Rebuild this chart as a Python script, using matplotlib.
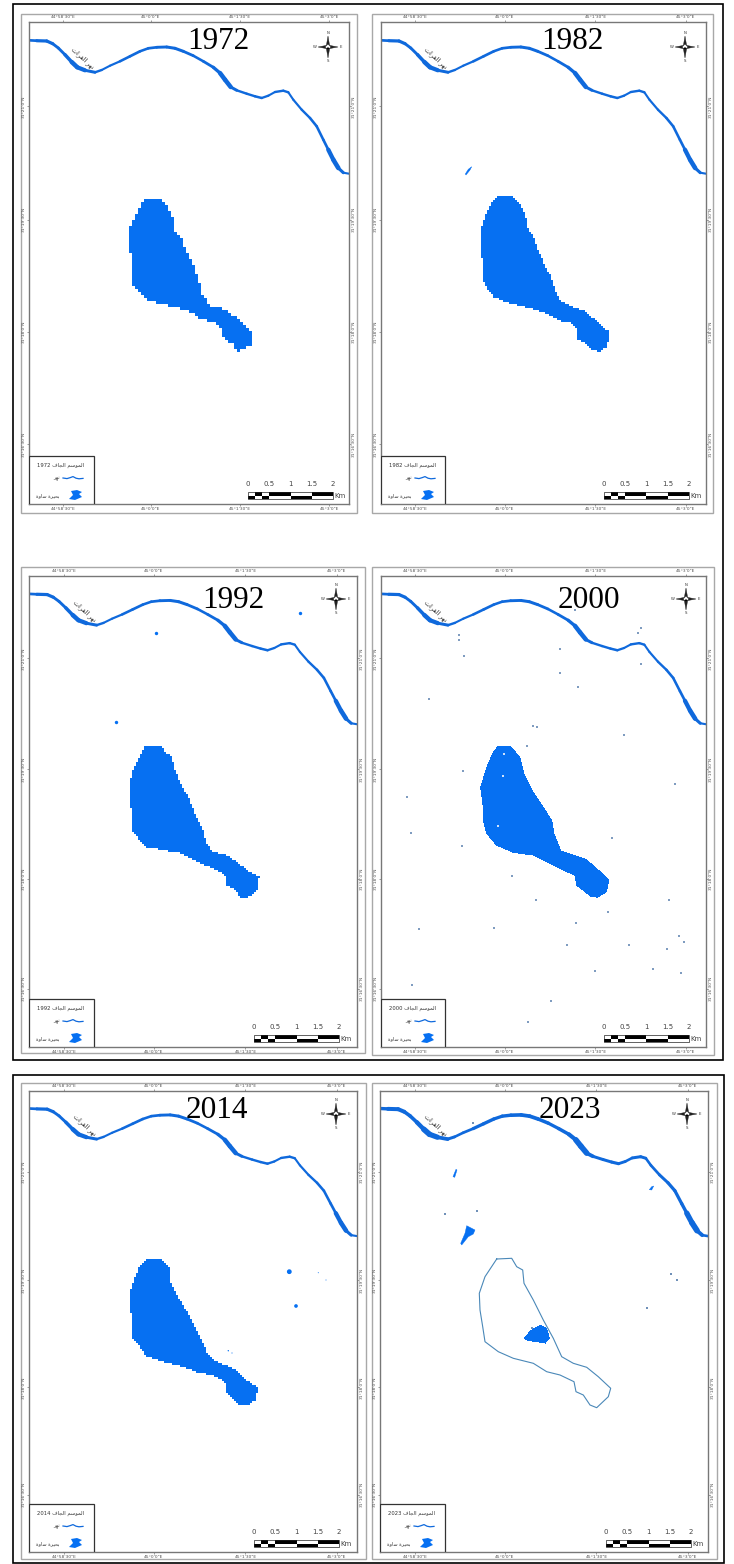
import numpy as np
import matplotlib
matplotlib.use("Agg")
import matplotlib.pyplot as plt
from matplotlib.collections import LineCollection
from matplotlib.colors import ListedColormap
from matplotlib.patches import Polygon, Rectangle
from matplotlib.path import Path

BLUE = "#0670f2"
RIVER_BLUE = "#0f69dc"

YEARS = ["1972", "1982", "1992", "2000", "2014", "2023"]

# river traced on the 1972 map, the others are the same river on a slightly different window
river_x = [0, 7.7, 17.7, 23.7, 29.3, 36, 42.7, 48.3, 56, 66, 72.7, 81, 91, 101, 111, 119.3, 127.7, 137.7, 146, 154.3,
           164.3, 174.3, 184.3, 191, 196, 201.7, 207.7, 217.7, 226, 232.7, 239.3, 246, 254.3, 259.3, 264.3, 272.7,
           281, 287.7, 294.3, 299.3, 304.3, 309.3, 314.3, 320]
river_y = [18.3, 18.7, 19, 21.7, 26, 32.7, 40, 45.3, 48.3, 50.3, 48, 43.7, 39.3, 34.3, 29.3, 26.3, 25.3, 25, 26.3, 29.3,
           33.7, 39.3, 45.3, 51, 57.7, 65, 68.3, 71.7, 74.3, 76, 73.7, 70, 68.7, 70.3, 77.7, 87.7,
           96, 104.3, 117.7, 127.7, 137.7, 146, 150.7, 151.7]
river_w = [2.4, 3, 3.4, 3, 2.8, 3, 4, 5, 3.4, 2.6, 2.2, 2, 2.4, 2.8, 2.6, 2.6, 2.8, 3, 3, 3,
           2.6, 2.6, 3, 3.6, 5.4, 3.6, 2.4, 2.4, 2.4, 2.6, 2, 2.2, 2.6, 2.2, 2, 2.4,
           2.4, 2.8, 2.4, 3, 5.6, 3.6, 2.6, 1.6]

lake_1972_x = [114.3, 128.3, 134.3, 139.3, 143.7, 145, 152.7, 156, 162.7, 167.7, 171, 172.7, 181, 194.3, 204.3, 214.3,
               223.7, 223.7, 217.7, 209.3, 202.7, 194.3, 192.7, 184.3, 171, 161, 147.7, 127.7, 114.3, 101.7, 101,
               101.7, 98.3, 99.3, 104.3, 109.3]
lake_1972_y = [176.3, 175.3, 181.3, 186.3, 196.3, 208, 216.3, 228, 239.7, 254.7, 261.3, 273, 283, 286.3, 293, 301.3,
               309.7, 321.3, 323, 329.7, 321.3, 317.3, 306.3, 299.7, 296.3, 289.7, 284.7, 281.3, 274.7, 261.3, 248,
               234.7, 221.3, 208, 198, 186.3]
lake_1982_x = [115.7, 129, 135.7, 140.7, 144.7, 147.3, 152.3, 157.3, 163, 169, 173, 175.7, 180, 192.3, 204, 212.3,
               219.7, 228.3, 226.3, 218.3, 210.7, 202.3, 195, 195.7, 190.7, 179, 162.3, 145.7, 125.7, 112.3, 104,
               101, 102.3, 99.7, 99, 104, 110.7]
lake_1982_y = [174, 173.3, 178, 184.7, 194.7, 208, 214.7, 228, 241.3, 253, 264.7, 273, 279, 285.3, 288.7, 296.3,
               303, 309.7, 324.7, 329.7, 328, 319.7, 316.3, 306.3, 301.3, 298.7, 290.3, 285.3, 280.7, 274.7, 263,
               254.7, 244.7, 228, 211.3, 194.7, 181.3]
lake_1992_x = [116.7, 131.7, 136, 142.7, 146, 152.7, 159.3, 166, 174.3, 177, 184.3, 197.7, 207.7, 217.7, 230.3, 227.7,
               219.3, 211.7, 204.3, 197, 196, 184.3, 171, 152.7, 134.3, 117.7, 109.3, 103.7, 103.3, 101, 100.3,
               103.7, 111]
lake_1992_y = [169, 169, 175.7, 180.7, 194, 210.7, 220.7, 237.3, 254, 267.3, 275.7, 279, 285.7, 294, 300.7, 315.7,
               321.3, 321.3, 312.3, 309, 299, 292.3, 287.3, 277.3, 274, 271.3, 262.3, 255.7, 240.7, 224, 210.7,
               194, 180.7]
lake_2000_x = [117.3, 130.7, 139.7, 144, 152.3, 162.3, 171.7, 174, 180.7, 205.7, 219, 229, 226.3, 217.3, 209.7, 195.7,
               194, 182.3, 169, 152.3, 132.3, 115.7, 105.7, 102.3, 102.3, 99.7, 105.7, 112.3]
lake_2000_y = [169, 169.7, 180.7, 197.3, 214, 229, 244, 257.3, 274, 282.3, 294, 303.3, 315.7, 321.3, 320, 309,
               299, 294, 287.3, 279, 276.3, 269, 257.3, 244, 230.7, 210.7, 190.7, 175.7]
lake_2014_x = [117.7, 131, 140.3, 141.7, 151, 161, 171, 179.3, 187.7, 204.3, 217.7, 229.3, 226, 219.3, 211, 202.7,
               197, 197.7, 184.3, 171, 154.3, 134.3, 117.7, 109.3, 102.7, 103.7, 101, 100.3, 106, 111]
lake_2014_y = [168, 167.3, 175.7, 190.7, 209, 225.7, 245.7, 264, 270.7, 277.3, 289, 297.3, 309, 315, 314, 305.7,
               300.7, 292.3, 284, 282.3, 275.7, 270.7, 265.7, 254, 247.3, 232.3, 215.7, 202.3, 185.7, 174]
# 2023: old shoreline only, with what is left of the water inside it
shore_2023_x = [116.7, 131.7, 136.7, 142.7, 144, 153.3, 163.3, 173.3, 181.7, 193.3, 206.7, 218.3, 230.7, 228.3, 216.7,
                210, 203.3, 196, 194, 180, 166.7, 153.3, 133.3, 118.3, 105, 102.7, 100, 99.3, 105, 116.7]
shore_2023_y = [168, 167.3, 175.7, 179, 192.3, 209, 229, 247.3, 265.7, 272.3, 276.3, 285.7, 297.3, 305.7, 316.7,
                314, 304, 300.7, 290.7, 284, 280.7, 272.3, 267.3, 260.7, 250.7, 235.7, 219, 202.3, 185.7, 168]
lake_2023_x = [143.3, 150, 160, 166.7, 169.3, 165, 153.3, 145]
lake_2023_y = [246.3, 238.7, 233, 237, 247, 252, 250.3, 248.7]

# other water bodies
pond_1982_x = [90.7, 89, 85, 84.3, 87.3]
pond_1982_y = [144.7, 148, 153, 152, 147.3]
pond_2023a_x = [86.7, 95, 93.3, 88.3, 81.7, 80.7, 85]
pond_2023a_y = [134.7, 139, 143, 145.7, 154, 152.3, 142.3]
pond_2023b_x = [76, 77, 74.7, 73]
pond_2023b_y = [78.3, 79, 86.3, 85.7]
pond_2023c_x = [273.7, 271.7, 269.3, 271.7]
pond_2023c_y = [95, 99, 98.7, 95.7]

spots_1992_x = [271, 127, 86.7]
spots_1992_y = [37.3, 57.3, 146.3]
spots_2000_x = [78, 78, 83.3, 179, 179, 197.3, 48.3, 151.7, 156.3, 146, 243, 294, 82.3, 26.3, 260, 256.7, 260, 194,
                30, 81.3, 231.3, 131, 155.3, 288, 226.7, 195, 38, 113, 248.3, 186, 298.3, 303, 285.7, 272.3,
                299.7, 214.3, 31.3, 170, 147.3]
spots_2000_y = [59.3, 64.3, 79.7, 72.7, 96.7, 110.7, 122.7, 149.7, 151.3, 170, 159.3, 208.3, 195, 221.3, 52.3, 56.7,
                88, 34, 257.3, 270, 262, 300, 324, 324.3, 335.7, 347.3, 352.7, 352.3, 369, 369, 359.7, 365.7,
                372.7, 393, 397.3, 395.3, 408.7, 425, 445.7]
holes_2000_x = [123, 122.3, 117.3]
holes_2000_y = [178, 199.7, 250]
spots_2014_x = [260.3, 267, 289.3, 297, 199.3, 203]
spots_2014_y = [180.7, 215, 181.7, 189, 259.7, 262]
spots_2014_s = [12, 7, 0.5, 0.5, 1, 0.6]
spots_2023_x = [291, 296.7, 267.3, 151.7, 65, 97.3, 93.3]
spots_2023_y = [182.7, 189, 217, 237, 123, 119.7, 31.7]

lon_labels = ["44°58'30\"E", "45°0'0\"E", "45°1'30\"E", "45°3'0\"E"]
lat_labels = ["31°21'0\"N", "31°19'30\"N", "31°18'0\"N", "31°16'30\"N"]

# arabic in presentation forms, written in visual order since matplotlib does no shaping
season_label = "\ufed1\ufe8e\ufea0\ufedf\ufe8d \ufee2\ufeb3\ufeee\ufee4\ufedf\ufe8d"
river_label = "\ufeae\ufeec\ufee7"
lake_label = "\ufe93\ufeed\ufe8e\ufeb3 \ufe93\ufeae\ufef4\ufea4\ufe91"
map_river_label = "\ufe95\ufe8d\ufeae\ufed4\ufedf\ufe8d \ufeae\ufeec\ufee7"

scale_km = [0, 0.5, 1, 1.5, 2]
scale_top = [(1 / 6, 1 / 6), (0.5, 0.5), (1.5, 0.5)]
scale_bottom = [(0, 1 / 6), (1 / 3, 1 / 6), (1, 0.5)]

wave_x = [0, 4, 7, 10, 13, 16, 20]
wave_y = [0, 0.6, -0.3, -1.4, 0.2, 0.8, 0.4]
blob_x = [2, 8, 13, 10, 13, 6, 0, 4]
blob_y = [-4, -5, -3, -1, 2, 5, 4, 0]

# layout in image pixels: outer frame, inner frame, then title, compass, scale bar in map pixels
W, H = 734, 1564
LAYOUT = {
    "1972": dict(outer=(21, 14, 357, 513), inner=(29, 22, 349, 504), title=(189, 19.5), compass=(299, 25), scale=219, river=1.0, cell=3),
    "1982": dict(outer=(372, 14, 713, 513), inner=(381, 22, 706, 504), title=(191, 19.5), compass=(304, 25), scale=223, river=1.0, cell=2),
    "1992": dict(outer=(21, 567, 365, 1053), inner=(29, 576, 357, 1047), title=(204, 24), compass=(307, 23), scale=225, river=1.0, cell=2),
    "2000": dict(outer=(372, 567, 714, 1055), inner=(381, 576, 706, 1047), title=(208, 24), compass=(305, 23), scale=223, river=1.0, cell=1),
    "2014": dict(outer=(21, 1083, 366, 1559), inner=(29, 1091, 357, 1552), title=(188, 19.5), compass=(307, 23), scale=225, river=1.0, cell=2),
    "2023": dict(outer=(372, 1083, 717, 1559), inner=(380, 1091, 708, 1552), title=(190, 19.5), compass=(307, 23), scale=226, river=1.25, cell=1),
}
LAKES = {
    "1972": (lake_1972_x, lake_1972_y),
    "1982": (lake_1982_x, lake_1982_y),
    "1992": (lake_1992_x, lake_1992_y),
    "2000": (lake_2000_x, lake_2000_y),
    "2014": (lake_2014_x, lake_2014_y),
    "2023": (lake_2023_x, lake_2023_y),
}


def draw_lake(ax, x, y, cell):
    # sample on a whole pixel grid so the edge stays stepped like the classified raster
    path = Path(np.column_stack([x, y]))
    gx = np.arange(np.floor(min(x)), max(x) + cell, cell)
    gy = np.arange(np.floor(min(y)), max(y) + cell, cell)
    xx, yy = np.meshgrid(gx, gy)
    inside = path.contains_points(np.column_stack([xx.ravel(), yy.ravel()])).reshape(xx.shape)
    ax.pcolormesh(xx, yy, np.ma.masked_where(~inside, inside.astype(float)),
                  cmap=ListedColormap([BLUE]), shading="nearest", zorder=2)


def draw_river(ax, sx, sy, gain):
    x = np.array(river_x) * sx
    y = np.array(river_y) * sy
    pts = np.column_stack([x, y])
    segs = np.stack([pts[:-1], pts[1:]], axis=1)
    w = np.array(river_w)
    lw = (w[:-1] + w[1:]) / 2 * 0.72 * gain
    ax.add_collection(LineCollection(segs, linewidths=lw, colors=RIVER_BLUE, capstyle="round", zorder=2))


def draw_compass(ax, cx, cy):
    ax.add_patch(Polygon([(cx, cy - 11), (cx + 1.6, cy - 1.6), (cx + 10, cy), (cx + 1.6, cy + 1.6), (cx, cy + 11),
                          (cx - 1.6, cy + 1.6), (cx - 10, cy), (cx - 1.6, cy - 1.6)],
                         fc="#222222", ec="#222222", lw=0.3, zorder=6))
    ax.add_patch(Polygon([(cx, cy - 3), (cx + 3, cy), (cx, cy + 3), (cx - 3, cy)], fc="white", ec="#222222", lw=0.4, zorder=7))
    ax.add_patch(Polygon([(cx, cy), (cx + 1.6, cy + 1.6), (cx, cy + 3), (cx - 1.6, cy + 1.6)], fc="black", lw=0, zorder=8))
    for t, dx, dy in [("N", 0, -14), ("S", 0, 14), ("E", 13, 0), ("W", -13, 0)]:
        ax.text(cx + dx, cy + dy, t, fontsize=2.8, ha="center", va="center", color="#333333", zorder=6)


def draw_legend(ax, year, h):
    top = h - 48
    ax.add_patch(Rectangle((0, top), 64.5, 48, fc="white", ec="#333333", lw=0.9, zorder=5))
    ax.text(55, top + 9, year + " " + season_label, fontsize=3.8, ha="right", va="center", color="#333333", zorder=6)
    ax.plot(np.array(wave_x) + 34, np.array(wave_y) + top + 22, color=RIVER_BLUE, lw=0.9, zorder=6)
    ax.text(28, top + 22.5, river_label, fontsize=3.8, ha="center", va="center", color="#333333", zorder=6)
    ax.add_patch(Polygon(np.column_stack([np.array(blob_x) + 40, np.array(blob_y) + top + 39]), fc=BLUE, lw=0, zorder=6))
    ax.text(19, top + 39.5, lake_label, fontsize=3.5, ha="center", va="center", color="#333333", zorder=6)


def draw_scale(ax, x0, h):
    per_km = 42.5
    for left, width in scale_top:
        ax.barh(h - 10.2, width * per_km, height=3.6, left=x0 + left * per_km, color="black", zorder=4)
    for left, width in scale_bottom:
        ax.barh(h - 6.6, width * per_km, height=3.6, left=x0 + left * per_km, color="black", zorder=4)
    ax.add_patch(Rectangle((x0, h - 12), 2 * per_km, 7.2, fc="none", ec="#222222", lw=0.5, zorder=4))
    for km in scale_km:
        ax.text(x0 + km * per_km, h - 20, f"{km:g}", fontsize=5, ha="center", va="center", color="#444444", zorder=4)
    ax.text(x0 + 2 * per_km + 7, h - 8, "Km", fontsize=5, ha="center", va="center", color="#444444", zorder=4)


fig = plt.figure(figsize=(W / 100, H / 100), dpi=100)
bg = fig.add_axes([0, 0, 1, 1])
bg.set_xlim(0, W)
bg.set_ylim(H, 0)
bg.axis("off")

# the two black boxes the figure was pasted in
bg.add_patch(Rectangle((13, 4), 710, 1056, fc="white", ec="black", lw=1.2))
bg.add_patch(Rectangle((13, 1075), 711, 488, fc="white", ec="black", lw=1.2))

for year in YEARS:
    cfg = LAYOUT[year]
    x0, y0, x1, y1 = cfg["outer"]
    bg.add_patch(Rectangle((x0, y0), x1 - x0, y1 - y0, fc="white", ec="#a8a8a8", lw=1.0))

    ix0, iy0, ix1, iy1 = cfg["inner"]
    w, h = ix1 - ix0, iy1 - iy0
    ax = fig.add_axes([ix0 / W, 1 - iy1 / H, w / W, h / H])
    sx, sy = w / 320, h / 482

    draw_river(ax, sx, sy, cfg["river"])
    lx, ly = LAKES[year]
    draw_lake(ax, lx, ly, cfg["cell"])

    if year == "1982":
        ax.add_patch(Polygon(np.column_stack([pond_1982_x, pond_1982_y]), fc=BLUE, ec=BLUE, lw=0.3, zorder=2))
    if year == "1992":
        ax.scatter(spots_1992_x, spots_1992_y, s=6, color=BLUE, marker="o", lw=0, zorder=2)
    if year == "2000":
        ax.scatter(spots_2000_x, spots_2000_y, s=0.8, color="#7f9cc0", marker="s", lw=0, zorder=2)
        ax.scatter(holes_2000_x, holes_2000_y, s=1.5, color="#cfe2fb", marker="s", lw=0, zorder=3)
    if year == "2014":
        ax.scatter(spots_2014_x, spots_2014_y, s=spots_2014_s, color=BLUE, marker="o", lw=0, zorder=2)
    if year == "2023":
        ax.plot(shore_2023_x, shore_2023_y, color="#4a88b8", lw=0.8, zorder=2)
        for px, py in [(pond_2023a_x, pond_2023a_y), (pond_2023b_x, pond_2023b_y), (pond_2023c_x, pond_2023c_y)]:
            ax.add_patch(Polygon(np.column_stack([px, py]), fc=BLUE, ec=BLUE, lw=0.3, zorder=2))
        ax.scatter(spots_2023_x, spots_2023_y, s=1.0, color="#6f90b8", marker="s", lw=0, zorder=2)

    ax.text(54 * sx, 36 * sy, map_river_label, fontsize=4.6, rotation=-42, ha="center", va="center",
            color="#222222", zorder=4)
    ax.text(cfg["title"][0], cfg["title"][1], year, fontsize=22.5, family="Liberation Serif", ha="center", va="center",
            color="black", zorder=9)
    draw_compass(ax, *cfg["compass"])
    draw_legend(ax, year, h)
    draw_scale(ax, cfg["scale"], h)

    ax.set_xlim(0, w)
    ax.set_ylim(h, 0)
    ax.set_xticks([f * w for f in (0.106, 0.381, 0.66, 0.938)], lon_labels)
    ax.set_yticks([f * h for f in (0.175, 0.41, 0.643, 0.876)], lat_labels)
    ax.tick_params(top=True, right=True, labeltop=True, labelright=True, length=1.5, width=0.4, pad=0.6,
                   labelsize=3.2, labelcolor="#555555", color="#555555")
    ax.tick_params(axis="y", labelrotation=90)
    for lab in ax.get_yticklabels():
        lab.set_va("center")
    for sp in ax.spines.values():
        sp.set_color("#777777")
        sp.set_linewidth(1.0)

fig.savefig("out.png", dpi=100)
